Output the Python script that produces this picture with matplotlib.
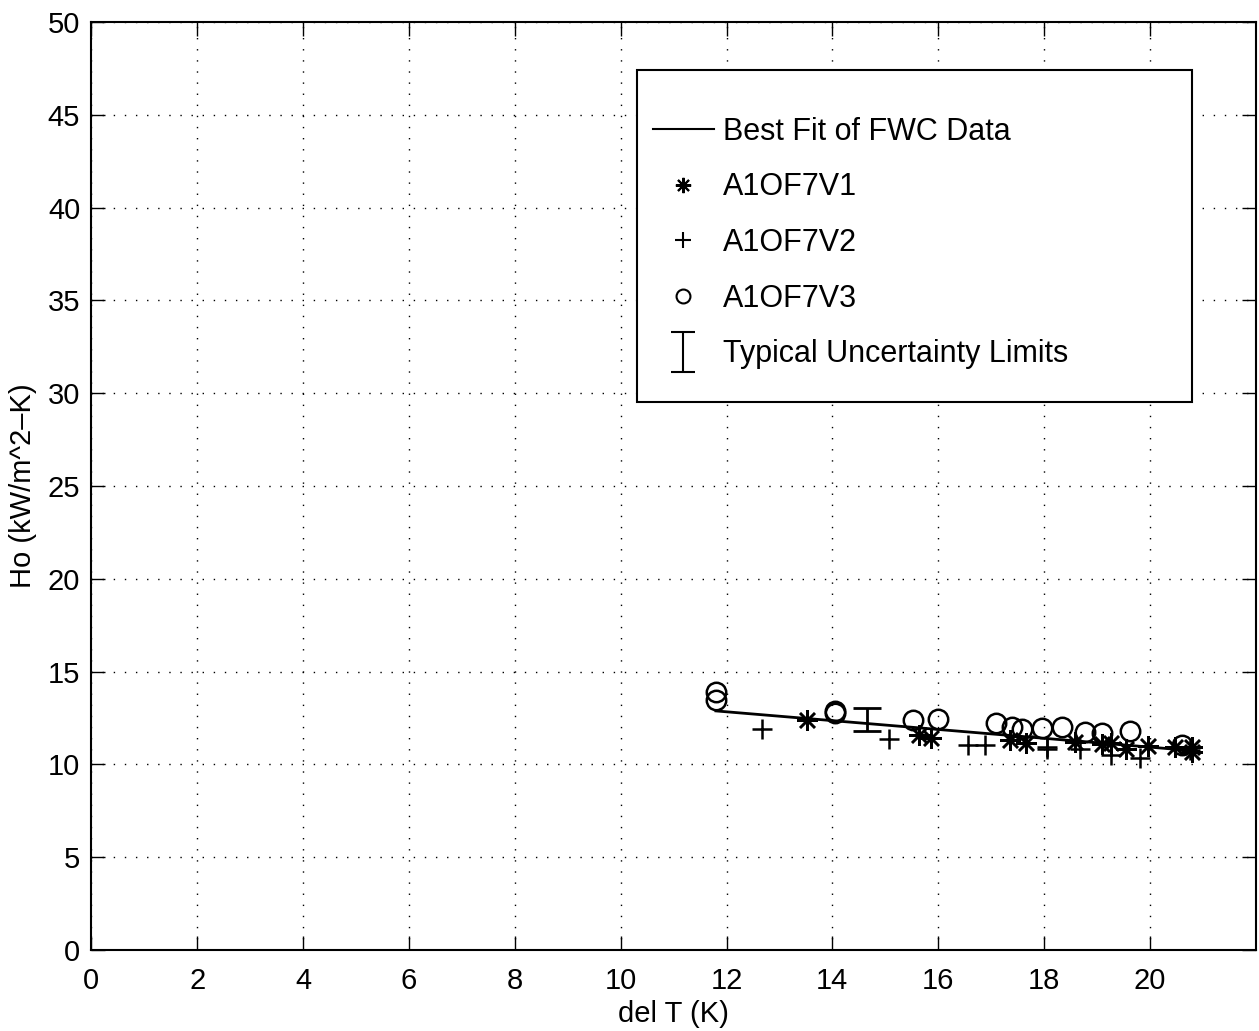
import numpy as np
import matplotlib.pyplot as plt
from matplotlib.patches import Rectangle
from matplotlib.lines import Line2D
from matplotlib.path import Path

plt.rcParams['font.family'] = ['Liberation Sans', 'DejaVu Sans']

# data
fit_x = [11.8, 20.75]
fit_y = [12.88, 10.75]

v1_x = [13.52, 15.63, 15.86, 17.35, 17.66, 18.58, 19.09, 19.26, 19.55, 19.96, 20.47, 20.8, 20.8]
v1_y = [12.39, 11.58, 11.42, 11.30, 11.15, 11.20, 11.10, 11.15, 10.83, 10.99, 10.94, 10.94, 10.67]

v2_x = [12.68, 15.07, 16.57, 16.88, 18.05, 18.05, 18.68, 19.26, 19.81, 20.75]
v2_y = [11.90, 11.37, 11.02, 11.05, 10.95, 10.82, 10.83, 10.50, 10.34, 10.80]

v3_x = [11.8, 11.8, 14.05, 14.05, 15.52, 16.0, 17.1, 17.39, 17.58, 17.96, 18.34, 18.77, 19.09, 19.62, 20.6]
v3_y = [13.90, 13.47, 12.90, 12.75, 12.39, 12.45, 12.22, 12.00, 11.90, 11.96, 12.00, 11.75, 11.69, 11.80, 11.05]

err_x = [14.65]
err_y = [12.42]
err_h = [0.62]

fig = plt.figure(figsize=(12.59, 10.31), dpi=100)
ax = fig.add_axes([0.0725, 0.0786, 0.925, 0.9001])

star = (8, 2, 0)
ax.plot(fit_x, fit_y, color='black', lw=2)
ax.plot(v1_x, v1_y, ls='none', marker=star, ms=15, mew=1.8, color='black')
ax.plot(v2_x, v2_y, ls='none', marker='+', ms=15, mew=1.8, color='black')
ax.plot(v3_x, v3_y, ls='none', marker='o', ms=14, mew=1.8, mfc='none', mec='black')
ax.errorbar(err_x, err_y, yerr=err_h, fmt='none', ecolor='black', elinewidth=2,
            capsize=10, capthick=2)

ax.set_xlim(0, 22)
ax.set_ylim(0, 50)
ax.set_xticks(np.arange(0, 21, 2))
ax.set_yticks(np.arange(0, 51, 5))
ax.tick_params(direction='in', length=10, width=1, top=True, right=True, labelsize=21)
ax.tick_params(axis='x', pad=12)
ax.tick_params(axis='y', pad=8)
ax.grid(True, color='black', ls=(0, (1, 7)), lw=1)
for s in ax.spines.values():
    s.set_linewidth(1.5)

ax.set_xlabel('del T (K)', fontsize=21, labelpad=4)
ax.set_ylabel('Ho (kW/m^2\u2013K)', fontsize=21, labelpad=8)

# I-beam marker for the uncertainty entry
ibeam = Path([(-0.58, 1), (0.58, 1), (0, 1), (0, -1), (-0.58, -1), (0.58, -1)],
             [Path.MOVETO, Path.LINETO, Path.MOVETO, Path.LINETO, Path.MOVETO, Path.LINETO])

# legend box drawn separately so the padding matches
ax.add_patch(Rectangle((0.469, 0.590), 0.476, 0.358, transform=ax.transAxes,
                       facecolor='white', edgecolor='black', lw=1.5, zorder=5))
handles = [
    Line2D([], [], color='black', lw=1.5),
    Line2D([], [], ls='none', marker=star, ms=11, mew=1.5, color='black'),
    Line2D([], [], ls='none', marker='+', ms=11, mew=1.5, color='black'),
    Line2D([], [], ls='none', marker='o', ms=10, mew=1.5, mfc='none', mec='black'),
    Line2D([], [], ls='none', marker=ibeam, ms=29, mew=1.5, mfc='none', mec='black'),
]
labels = ['Best Fit of FWC Data', 'A1OF7V1', 'A1OF7V2', 'A1OF7V3', 'Typical Uncertainty Limits']
leg = ax.legend(handles, labels, loc='upper left', bbox_to_anchor=(0.482, 0.898),
                frameon=False, fontsize=22, handlelength=2.0, handletextpad=0.3,
                labelspacing=0.84, borderpad=0, borderaxespad=0)
leg.set_zorder(6)

fig.savefig('out.png', dpi=100)
